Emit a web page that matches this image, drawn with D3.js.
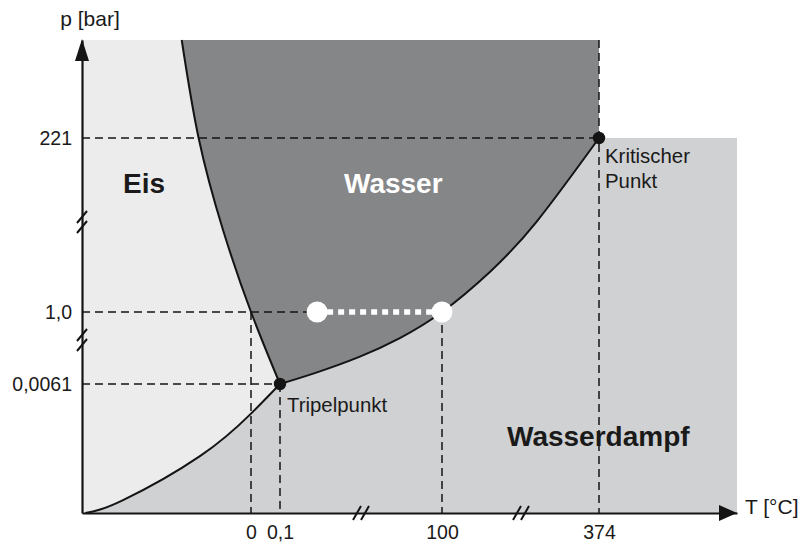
<!DOCTYPE html>
<html>
<head>
<meta charset="utf-8">
<script src="https://cdn.jsdelivr.net/npm/d3@7"></script>
<style>
  html, body { margin: 0; padding: 0; background: #fff; }
  svg { display: block; font-family: "Liberation Sans", Arial, sans-serif; }
</style>
</head>
<body>
<svg id="chart" width="807" height="544"></svg>
<script>
// ---------- data (schematic phase diagram of water, broken axes) ----------
const tTicks = [0, 0.1, 100, 374];
const tTickLabels = ["0", "0,1", "100", "374"];
const pTicks = [0.0061, 1.0, 221];
const pTickLabels = ["0,0061", "1,0", "221"];

// broken-axis segment boundaries (domain breakpoints)
const tDomain = [-10, 0, 0.1, 100, 374, 500];
const pDomain = [0, 0.0061, 1.0, 221, 300];

// phase boundary curves [T (°C), p (bar)]
const meltingCurve = [[-4.1, 300], [-3.1, 221], [-1.66, 105], [0, 1.0], [0.1, 0.0061]];
const sublimationCurve = [[-9.8, 0], [-7.6, 0.0006], [-3.0, 0.0027], [0, 0.0047], [0.1, 0.0061]];
const vaporCurve = [[0.1, 0.0061], [22, 0.16], [49, 0.38], [74, 0.64], [100, 1.0], [184, 52], [266, 116], [374, 221]];

const triplePoint = [0.1, 0.0061];
const criticalPoint = [374, 221];
const heatingPath = [[23, 1.0], [100, 1.0]];   // white circles at 1 bar

// ---------- layout ----------
const svg = d3.select("#chart");
const x = d3.scaleLinear().domain(tDomain).range([82, 251, 280, 442, 599, 737]);
const y = d3.scaleLinear().domain(pDomain).range([513, 384, 312, 138, 40]);

const colIce = "#ececec", colWater = "#858688", colVapor = "#d0d1d3", ink = "#141414";

const line = d3.line().x(d => x(d[0])).y(d => y(d[1])).curve(d3.curveNatural);
const seg = (pts) => line(pts).replace(/^M/, "L");

const tTop = pDomain[pDomain.length - 1];
const tEnd = tDomain[tDomain.length - 1];

// ice background (whole region left of 374 °C)
svg.append("path")
  .attr("d", `M${x(tDomain[0])},${y(tTop)}L${x(374)},${y(tTop)}L${x(374)},${y(0)}L${x(tDomain[0])},${y(0)}Z`)
  .attr("fill", colIce);

// vapour region
svg.append("path")
  .attr("d", line(sublimationCurve) + seg(vaporCurve) +
    `L${x(tEnd)},${y(221)}L${x(tEnd)},${y(0)}L${x(tDomain[0])},${y(0)}Z`)
  .attr("fill", colVapor);

// water region
svg.append("path")
  .attr("d", line(meltingCurve) + seg(vaporCurve) + `L${x(374)},${y(tTop)}Z`)
  .attr("fill", colWater);

// dashed guide lines
const dash = svg.append("g").attr("stroke", ink).attr("stroke-width", 1.5)
  .attr("stroke-dasharray", "8,5").attr("fill", "none");
dash.append("line").attr("x1", x(tDomain[0])).attr("x2", x(374)).attr("y1", y(221)).attr("y2", y(221));
dash.append("line").attr("x1", x(tDomain[0])).attr("x2", x(heatingPath[0][0])).attr("y1", y(1)).attr("y2", y(1));
dash.append("line").attr("x1", x(tDomain[0])).attr("x2", x(0.1)).attr("y1", y(0.0061)).attr("y2", y(0.0061));
dash.append("line").attr("x1", x(0)).attr("x2", x(0)).attr("y1", y(1)).attr("y2", y(0));
dash.append("line").attr("x1", x(0.1)).attr("x2", x(0.1)).attr("y1", y(0.0061)).attr("y2", y(0));
dash.append("line").attr("x1", x(100)).attr("x2", x(100)).attr("y1", y(1)).attr("y2", y(0));
dash.append("line").attr("x1", x(374)).attr("x2", x(374)).attr("y1", y(tTop)).attr("y2", y(0));

// phase boundary curves
const curves = svg.append("g").attr("fill", "none").attr("stroke", ink).attr("stroke-width", 2);
[meltingCurve, sublimationCurve, vaporCurve].forEach(c => curves.append("path").attr("d", line(c)));

// axes
const fmtT = (d, i) => tTickLabels[i];
const fmtP = (d, i) => pTickLabels[i];
const xAxis = svg.append("g").attr("transform", `translate(0,${y(0)})`)
  .call(d3.axisBottom(x).tickValues(tTicks).tickFormat(fmtT).tickSize(0).tickSizeOuter(0).tickPadding(12));
const yAxis = svg.append("g").attr("transform", `translate(${x(tDomain[0])},0)`)
  .call(d3.axisLeft(y).tickValues(pTicks).tickFormat(fmtP).tickSize(0).tickSizeOuter(0).tickPadding(10));
[xAxis, yAxis].forEach(a => {
  a.select(".domain").attr("stroke", ink).attr("stroke-width", 2.2);
  a.selectAll("text").attr("font-size", 19.5).attr("fill", "#1a1a1a")
    .attr("font-family", "'Liberation Sans', Arial, sans-serif");
});

// arrow heads
const ax0 = x(tDomain[0]), ay0 = y(0);
svg.append("path").attr("d", `M${ax0},${y(tTop) - 1}L${ax0 - 7},${y(tTop) + 21}L${ax0 + 7},${y(tTop) + 21}Z`).attr("fill", ink);
svg.append("path").attr("d", `M${x(tEnd)},${ay0}L${x(tEnd) - 18},${ay0 - 8}L${x(tEnd) - 18},${ay0 + 8}Z`).attr("fill", ink);

// axis break marks
const brk = svg.append("g").attr("stroke", ink).attr("stroke-width", 2);
[222, 340].forEach(yy => {
  [-5, 5].forEach(o => brk.append("line")
    .attr("x1", ax0 - 5).attr("y1", yy + o + 6).attr("x2", ax0 + 5).attr("y2", yy + o - 6));
});
[361, 521].forEach(xx => {
  [-4, 4].forEach(o => brk.append("line")
    .attr("x1", xx + o - 4).attr("y1", ay0 + 7).attr("x2", xx + o + 4).attr("y2", ay0 - 7));
});

// heating path: white dotted line and circles
svg.append("line")
  .attr("x1", x(heatingPath[0][0]) + 10).attr("x2", x(heatingPath[1][0]) - 10)
  .attr("y1", y(1)).attr("y2", y(1))
  .attr("stroke", "#fff").attr("stroke-width", 5.5).attr("stroke-dasharray", "6,5");
svg.selectAll("circle.hp").data(heatingPath).join("circle").attr("class", "hp")
  .attr("cx", d => x(d[0])).attr("cy", d => y(d[1])).attr("r", 10.5).attr("fill", "#fff");

// special points
svg.selectAll("circle.sp").data([triplePoint, criticalPoint]).join("circle").attr("class", "sp")
  .attr("cx", d => x(d[0])).attr("cy", d => y(d[1])).attr("r", 6.2).attr("fill", ink);

// labels
const txt = (s, px, py, opt = {}) => svg.append("text").attr("x", px).attr("y", py)
  .attr("font-size", opt.size || 20).attr("font-weight", opt.bold ? "bold" : "normal")
  .attr("fill", opt.fill || "#1a1a1a").attr("text-anchor", opt.anchor || "start").text(s);

txt("Eis", 123, 193, { size: 28, bold: true });
txt("Wasser", 344, 193, { size: 28, bold: true, fill: "#fff" });
txt("Wasserdampf", 507, 446, { size: 28, bold: true });
txt("Tripelpunkt", x(triplePoint[0]) + 7, y(triplePoint[1]) + 28, { size: 20.4 });
txt("Kritischer", x(criticalPoint[0]) + 6, y(criticalPoint[1]) + 25, { size: 20.4 });
txt("Punkt", x(criticalPoint[0]) + 6, y(criticalPoint[1]) + 50, { size: 20.4 });
txt("p [bar]", 90, 26, { size: 21, anchor: "middle" });
txt("T [°C]", 745, 514, { size: 21 });
</script>
</body>
</html>
